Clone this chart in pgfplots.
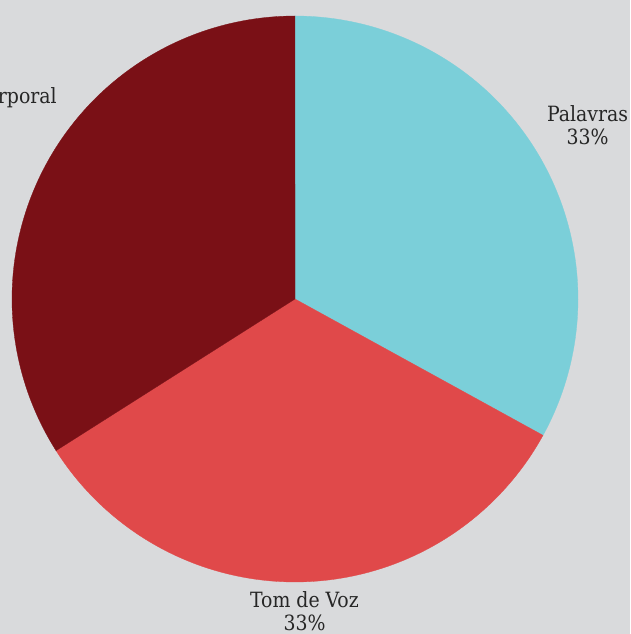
\documentclass[border=0pt]{standalone}
\usepackage{pgfplots}
\pgfplotsset{compat=1.18}
\usepackage{fontspec}
\setmainfont{DejaVu Serif Condensed}
\definecolor{bgc}{RGB}{217,218,220}
\definecolor{cPal}{RGB}{123,207,217}
\definecolor{cTom}{RGB}{224,73,74}
\definecolor{cCor}{RGB}{122,16,22}
\definecolor{txt}{RGB}{38,38,38}
\begin{document}
\begin{tikzpicture}
\path[use as bounding box] (0,0) rectangle (630pt,634pt);
\clip (0,0) rectangle (630pt,634pt);
\fill[bgc] (0,0) rectangle (630pt,634pt);
\begin{axis}[at={(0,0)}, anchor=south west, scale only axis,
  width=630pt, height=634pt,
  xmin=-295, xmax=335, ymin=-335, ymax=299,
  hide axis, clip=false]
% values: Palavras 33, Tom de Voz 33, Expressao Corporal 34 (percent); 1% = 3.6 deg, start at 90 deg clockwise
\addplot[draw=cPal, line width=0.3pt, fill=cPal, domain=90:-28.8, samples=150, variable=\t]
  ({283*cos(t)}, {283*sin(t)}) -- (axis cs:0,0) -- cycle;
\addplot[draw=cTom, line width=0.3pt, fill=cTom, domain=-28.8:-147.6, samples=150, variable=\t]
  ({283*cos(t)}, {283*sin(t)}) -- (axis cs:0,0) -- cycle;
\addplot[draw=cCor, line width=0.3pt, fill=cCor, domain=-147.6:-270, samples=150, variable=\t]
  ({283*cos(t)}, {283*sin(t)}) -- (axis cs:0,0) -- cycle;
\begin{scope}[every node/.style={text=txt, font=\fontsize{21}{24}\selectfont, inner sep=0pt}]
\node[anchor=base] at (axis cs:292.5,177) {Palavras};
\node[anchor=base] at (axis cs:292.5,154) {33\%};
\node[anchor=base] at (axis cs:9.5,-309) {Tom de Voz};
\node[anchor=base] at (axis cs:9.5,-332) {33\%};
\node[anchor=base east] (c1) at (axis cs:-238,195) {Expressão Corporal};
\node[anchor=base] at ([yshift=-23pt]c1.base) {34\%};
\end{scope}
\end{axis}
\end{tikzpicture}
\end{document}
